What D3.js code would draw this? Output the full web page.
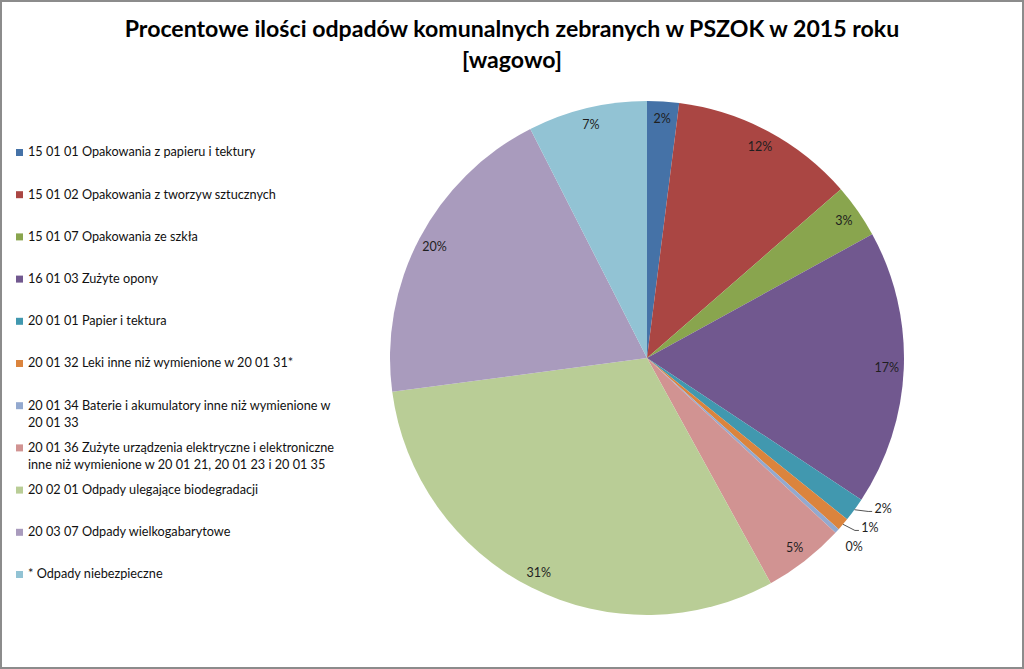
<!DOCTYPE html>
<html>
<head>
<meta charset="utf-8">
<script src="https://cdn.jsdelivr.net/npm/d3@7"></script>
<style>
  body { margin: 0; background: #fff; }
  svg { display: block; font-family: Lato, "Open Sans", sans-serif; }
</style>
</head>
<body>
<div id="chart"></div>
<script>
// data (percent of weight)
const categories = [
  "15 01 01 Opakowania z papieru i tektury",
  "15 01 02 Opakowania z tworzyw sztucznych",
  "15 01 07 Opakowania ze szkła",
  "16 01 03  Zużyte opony",
  "20 01 01 Papier i tektura",
  "20 01 32 Leki inne niż wymienione w 20 01 31*",
  "20 01 34 Baterie i akumulatory inne niż wymienione w|20 01 33",
  "20 01 36 Zużyte urządzenia elektryczne i elektroniczne|inne niż wymienione w 20 01 21, 20 01 23 i 20 01 35",
  "20 02 01 Odpady ulegające biodegradacji",
  "20 03 07 Odpady wielkogabarytowe",
  "* Odpady niebezpieczne"
];
const values = [2.0, 11.6, 3.4, 17.3, 1.5, 0.8, 0.3, 5.1, 30.9, 19.6, 7.5];
const labels = ["2%", "12%", "3%", "17%", "2%", "1%", "0%", "5%", "31%", "20%", "7%"];
const colors = ["#4572A7", "#AA4643", "#89A54E", "#71588F", "#4198AF", "#DB843D",
                "#93A9CF", "#D19392", "#B9CD96", "#A99BBD", "#92C3D4"];
const titleLines = ["Procentowe ilości odpadów komunalnych zebranych w PSZOK w 2015 roku", "[wagowo]"];

const W = 1024, H = 669;
const cx = 647, cy = 358, R = 257;

const svg = d3.select("#chart").append("svg")
    .attr("width", W)
    .attr("height", H);

// frame
svg.append("rect")
    .attr("x", 1).attr("y", 1)
    .attr("width", W - 2).attr("height", H - 2)
    .attr("fill", "#fff")
    .attr("stroke", "#8c8c8c")
    .attr("stroke-width", 2);

// title
const title = svg.append("g").attr("class", "title");
titleLines.forEach((t, i) => {
    title.append("text")
        .attr("x", 512)
        .attr("y", 37 + i * 31)
        .attr("text-anchor", "middle")
        .attr("font-weight", "bold")
        .attr("font-size", 21)
        .attr("fill", "#000")
        .text(t);
});
// size the title so the first line spans the width seen in the picture
const w0 = title.select("text").node().getComputedTextLength();
title.selectAll("text").attr("font-size", 21 * 775 / w0);

// pie
const color = d3.scaleOrdinal().domain(categories).range(colors);
const pie = d3.pie().sort(null).value(d => d.value);
const data = categories.map((c, i) => ({ name: c, value: values[i], label: labels[i] }));
const arcs = pie(data);

const arc = d3.arc().innerRadius(0).outerRadius(R);
const labelArc = d3.arc().innerRadius(240).outerRadius(240);

const g = svg.append("g").attr("transform", `translate(${cx},${cy})`);

g.selectAll("path.slice")
    .data(arcs)
    .enter().append("path")
    .attr("class", "slice")
    .attr("d", arc)
    .attr("fill", d => color(d.data.name));

// labels: inside for big slices, outside for tiny ones
const inside = arcs.filter(d => d.data.value >= 2);
const outside = arcs.filter(d => d.data.value < 2);

g.selectAll("text.inlabel")
    .data(inside)
    .enter().append("text")
    .attr("class", "inlabel")
    .attr("transform", d => `translate(${labelArc.centroid(d)})`)
    .attr("text-anchor", "middle")
    .attr("dy", "0.35em")
    .attr("font-size", 12.5)
    .attr("fill", "#1f1f1f")
    .text(d => d.data.label);

// place outside labels on a ring, pushing them apart vertically
const Ro = 280;
const pos = outside.map(d => {
    const a = (d.startAngle + d.endAngle) / 2;
    return { d: d, a: a, y: -Math.cos(a) * Ro };
});
for (let i = pos.length - 2; i >= 0; i--) {
    if (pos[i + 1].y - pos[i].y < 19) pos[i].y = pos[i + 1].y - 19;
}
pos.forEach(p => { p.x = Math.sqrt(Ro * Ro - p.y * p.y); });

const outG = g.selectAll("g.outlabel")
    .data(pos)
    .enter().append("g")
    .attr("class", "outlabel");

outG.append("text")
    .attr("x", p => p.x)
    .attr("y", p => p.y)
    .attr("text-anchor", "middle")
    .attr("dy", "0.35em")
    .attr("font-size", 12.5)
    .attr("fill", "#1f1f1f")
    .text(p => p.d.data.label);

// leader lines where the label drifted away from its slice
outG.filter(p => Math.abs(p.y - (-Math.cos(p.a) * Ro)) > 5)
    .insert("path", "text")
    .attr("d", p => {
        const ex = Math.sin(p.a) * R, ey = -Math.cos(p.a) * R;
        const lx = p.x - 11, ly = p.y + 3;
        return `M${ex},${ey}L${lx - 4},${ly}L${lx},${ly}`;
    })
    .attr("fill", "none")
    .attr("stroke", "#555")
    .attr("stroke-width", 1);

// legend
const legend = svg.append("g").attr("class", "legend");
const item = legend.selectAll("g")
    .data(data)
    .enter().append("g")
    .attr("transform", (d, i) => `translate(16, ${152 + i * 42.2})`);

item.append("rect")
    .attr("x", 0).attr("y", -3)
    .attr("width", 7).attr("height", 7)
    .attr("fill", d => color(d.name));

item.append("text")
    .attr("x", 12)
    .attr("y", 0)
    .attr("font-size", 12.7)
    .attr("fill", "#111")
    .each(function(d) {
        const lines = d.name.split("|");
        const t = d3.select(this);
        lines.forEach((ln, k) => {
            t.append("tspan")
                .attr("x", 12)
                .attr("y", k === 0 ? 0 : 17 * k)
                .attr("dy", "0.35em")
                .text(ln);
        });
    });
</script>
</body>
</html>
